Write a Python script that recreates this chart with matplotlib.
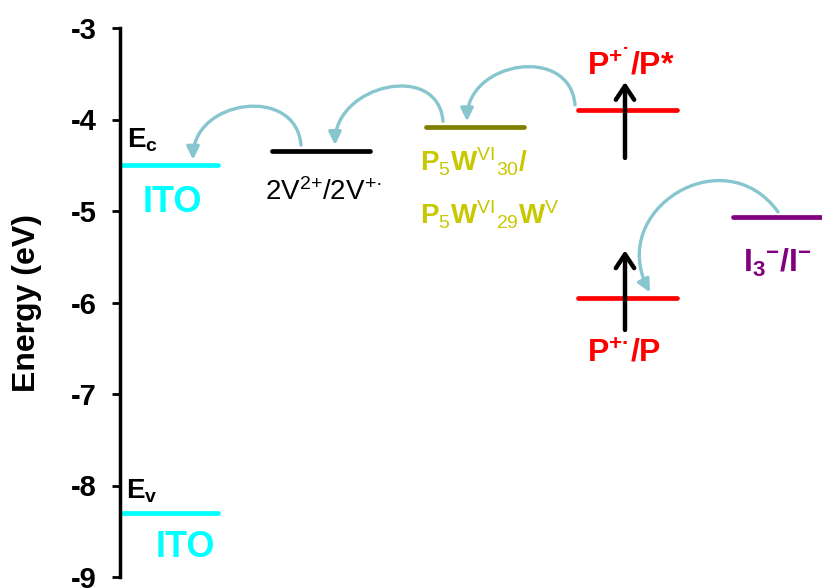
import numpy as np
import matplotlib
matplotlib.use('Agg')
import matplotlib.pyplot as plt
from matplotlib.path import Path
from matplotlib.patches import FancyArrowPatch

plt.rcParams['font.family'] = ['Liberation Sans', 'DejaVu Sans']
plt.rcParams['mathtext.fontset'] = 'custom'
plt.rcParams['mathtext.rm'] = 'Liberation Sans'
plt.rcParams['mathtext.bf'] = 'Liberation Sans:bold'
plt.rcParams['mathtext.it'] = 'Liberation Sans:italic'
plt.rcParams['axes.unicode_minus'] = False

# Energy levels (eV)
level_names = ['ITO_c', 'MV', 'POM', 'P_star', 'P', 'I3', 'ITO_v']
level_energy = [-4.50, -4.34, -4.08, -3.90, -5.95, -5.07, -8.30]
level_colors = ['#00FFFF', 'black', '#808000', '#FF0000', '#FF0000', '#800080', '#00FFFF']

# Tick labels
yticks = [-3, -4, -5, -6, -7, -8, -9]

# electron transfer arrows (from level -> to level)
transfer_from = ['MV', 'POM', 'P_star', 'I3']
transfer_to = ['ITO_c', 'MV', 'POM', 'P']

# excitation arrows: (ground, excited) energies
excite_lo = [-4.42, -6.30]
excite_hi = [-3.59, -5.43]

# layout (x in arbitrary units, axis from 0 to 7.02)
xspan = {'ITO_c': (0.02, 0.98), 'MV': (1.52, 2.50), 'POM': (3.06, 4.04),
         'P_star': (4.58, 5.57), 'P': (4.58, 5.57), 'I3': (6.13, 7.30),
         'ITO_v': (0.02, 0.98)}
E = dict(zip(level_names, level_energy))

fig = plt.figure(figsize=(8.22, 5.88), dpi=100)
ax = fig.add_axes([120/822, 11/588, 702/822, 549/588])
ax.set_xlim(0, 7.02)
ax.set_ylim(-9, -3)

for name, col in zip(level_names, level_colors):
    x0, x1 = xspan[name]
    ax.plot([x0, x1], [E[name], E[name]], color=col, lw=3.4, solid_capstyle='round')

# curved arrows (cubic bezier, tails / heads near the levels)
tail_x = {'MV': 1.81, 'POM': 3.23, 'P_star': 4.55, 'I3': 6.58}
head_x = {'ITO_c': 0.73, 'MV': 2.15, 'POM': 3.47, 'P': 5.30}
acol = '#88C6CF'
for a, b in zip(transfer_from, transfer_to):
    p0 = (tail_x[a], E[a] + 0.06)
    p3 = (head_x[b], E[b] + 0.06)
    if a == 'I3':
        p1 = (p0[0] - 0.54, p0[1] + 0.82)
        p2 = (p3[0] - 0.44, p3[1] + 0.90)
    else:
        h = 0.66
        p1 = (p0[0] - 0.05, p0[1] + h)
        p2 = (p3[0], p3[1] + h)
    path = Path([p0, p1, p2, p3], [Path.MOVETO, Path.CURVE4, Path.CURVE4, Path.CURVE4])
    arr = FancyArrowPatch(path=path, arrowstyle='-|>,head_length=0.45,head_width=0.22',
                          mutation_scale=17, color=acol, lw=2.4)
    ax.add_patch(arr)

# vertical excitation arrows
for lo, hi in zip(excite_lo, excite_hi):
    ax.annotate('', xy=(5.05, hi), xytext=(5.05, lo),
                arrowprops=dict(arrowstyle='->,head_length=0.45,head_width=0.3',
                                color='black', lw=3.2, mutation_scale=22,
                                shrinkA=0, shrinkB=0))

# labels
ax.text(0.07, -4.31, r'E$_\mathbf{c}$', fontsize=20, fontweight='bold',
        ha='left', va='baseline')
ax.text(0.06, -8.14, r'E$_\mathbf{v}$', fontsize=20, fontweight='bold',
        ha='left', va='baseline')
ax.text(0.52, -5.01, 'ITO', fontsize=26, fontweight='bold', color='#00FFFF',
        ha='center', va='baseline')
ax.text(0.65, -8.78, 'ITO', fontsize=26, fontweight='bold', color='#00FFFF',
        ha='center', va='baseline')
ax.text(1.45, -4.88, '2V$^{2{+}}$/2V$^{{+}\u00b7}$', fontsize=20,
        ha='left', va='baseline')
ax.text(3.00, -4.57, r'P$_\mathrm{5}$W$^\mathrm{VI}$$_\mathrm{30}$/', fontsize=20,
        fontweight='bold', color='#C8C800', ha='left', va='baseline')
ax.text(3.00, -5.15, r'P$_\mathrm{5}$W$^\mathrm{VI}$$_\mathrm{29}$W$^\mathrm{V}$',
        fontsize=20, fontweight='bold', color='#C8C800', ha='left', va='baseline')
ax.text(4.67, -3.51, 'P$^\\mathbf{{+}\u02d9}$/P*', fontsize=23, fontweight='bold',
        color='#FF0000', ha='left', va='baseline')
ax.text(4.67, -6.65, 'P$^\\mathbf{{+}\u00b7}$/P', fontsize=23, fontweight='bold',
        color='#FF0000', ha='left', va='baseline')
ax.text(6.23, -5.67, r'I$_\mathbf{3}$$^\mathbf{-}$/I$^\mathbf{-}$', fontsize=23,
        fontweight='bold', color='#800080', ha='left', va='baseline')

# axes styling
for s in ['top', 'right', 'bottom']:
    ax.spines[s].set_visible(False)
ax.spines['left'].set_linewidth(2.5)
ax.set_xticks([])
ax.set_yticks(yticks)
ax.set_yticklabels([str(t) for t in yticks])
ax.tick_params(axis='y', length=6, width=2, labelsize=21, pad=11)
for lbl in ax.get_yticklabels():
    lbl.set_fontweight('bold')
ax.set_ylabel('Energy (eV)', fontsize=23, fontweight='bold')
ax.yaxis.set_label_coords(-0.111, 0.5)

fig.savefig('out.png', dpi=100)
